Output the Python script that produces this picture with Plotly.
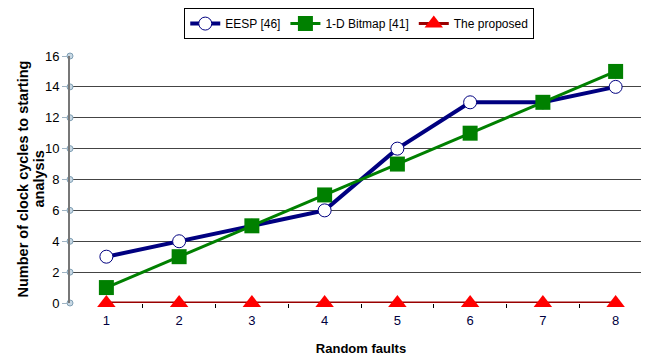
import plotly.graph_objects as go

faults = [1, 2, 3, 4, 5, 6, 7, 8]
eesp = [3, 4, 5, 6, 10, 13, 13, 14]
bitmap = [1, 3, 5, 7, 9, 11, 13, 15]
proposed = [0, 0, 0, 0, 0, 0, 0, 0]
y_ticks = [0, 2, 4, 6, 8, 10, 12, 14, 16]
minor_x = [1.5, 2.5, 3.5, 4.5, 5.5, 6.5, 7.5]
y_title = ["Number of clock cycles to starting", "analysis"]

FONT = "Liberation Sans, Arial, sans-serif"

fig = go.Figure()

# tick decoration on the y-axis
fig.add_trace(go.Scatter(
    x=[0.5] * len(y_ticks), y=y_ticks, mode="markers", showlegend=False,
    hoverinfo="skip", cliponaxis=False,
    marker=dict(symbol="circle", size=6, color="#c8d8e4",
                line=dict(color="#7f9fb4", width=1))))

fig.add_trace(go.Scatter(
    x=faults, y=eesp, name="EESP [46]", mode="lines+markers", cliponaxis=False,
    line=dict(color="#000080", width=4),
    marker=dict(symbol="circle", size=13, color="white",
                line=dict(color="#000080", width=1))))
fig.add_trace(go.Scatter(
    x=faults, y=bitmap, name="1-D Bitmap [41]", mode="lines+markers", cliponaxis=False,
    line=dict(color="#008000", width=3),
    marker=dict(symbol="square", size=15, color="#008000")))
fig.add_trace(go.Scatter(
    x=faults, y=proposed, name="The proposed", mode="lines+markers", cliponaxis=False,
    line=dict(color="#990000", width=3),
    marker=dict(symbol="triangle-up", size=16, color="#ff0000")))

fig.add_trace(go.Scatter(x=[None], y=[None], xaxis="x2", showlegend=False, hoverinfo="skip"))

fig.update_layout(
    width=649, height=360,
    margin=dict(l=62, r=5, t=48, b=65, autoexpand=False),
    paper_bgcolor="white", plot_bgcolor="white",
    font=dict(family=FONT, size=12, color="black"),
    legend=dict(orientation="h", x=0.497, xanchor="center", y=1.194, yanchor="top",
                bordercolor="black", borderwidth=1, font=dict(size=12),
                tracegroupgap=0, itemclick=False),
    xaxis=dict(range=[0.5, 8.5], tickvals=faults, ticks="outside", ticklen=5,
               tickcolor="rgba(0,0,0,0)", showgrid=False, automargin=False,
               zeroline=False, showline=False,
               tickfont=dict(size=13, color="#000040"),
               title=dict(text="<b>Random faults</b>", font=dict(size=13), standoff=17)),
    xaxis2=dict(overlaying="x", range=[0.5, 8.5], tickvals=minor_x,
                ticks="outside", ticklen=4, tickcolor="black", automargin=False,
                showticklabels=False, showgrid=False, zeroline=False,
                anchor="y", side="bottom"),
    yaxis=dict(range=[0, 16], tickvals=y_ticks, showgrid=True, gridcolor="#444444",
               gridwidth=1, zeroline=False, showline=True, linecolor="#777777",
               linewidth=2, ticks="outside", ticklen=6, tickcolor="#9fb4c4",
               automargin=False, tickfont=dict(size=13)),
)

# two-line y-axis title, placed as rotated text left of the tick labels
for i, (line, xs) in enumerate(zip(y_title, [-48, -32])):
    fig.add_annotation(text="<b>%s</b>" % line, xref="paper", yref="paper",
                       x=0, xshift=xs, y=0.5, xanchor="center", yanchor="middle",
                       textangle=-90, showarrow=False,
                       font=dict(size=14.5, family=FONT, color="black"))

fig.write_html("out.html")
